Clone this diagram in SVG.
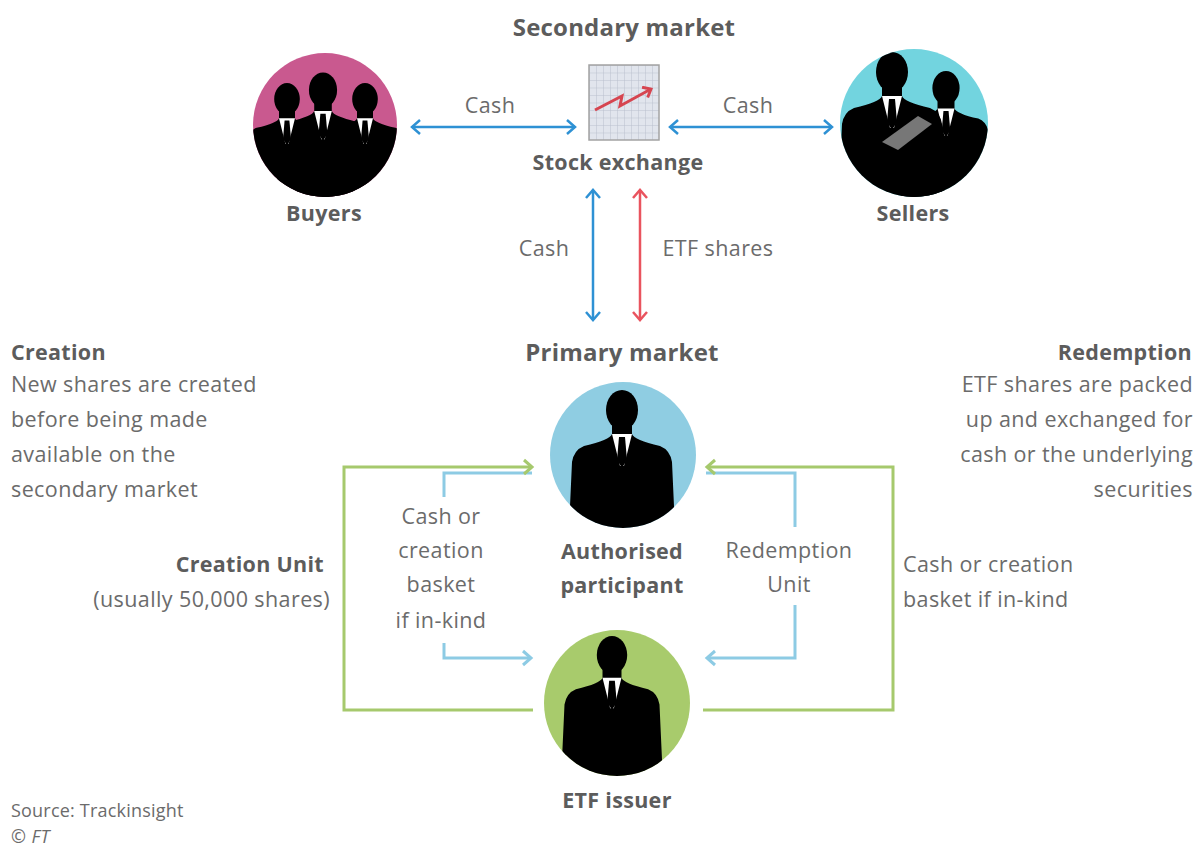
<svg xmlns="http://www.w3.org/2000/svg" width="1199" height="846" viewBox="0 0 1199 846">
<defs>
<style>
text{font-family:"Open Sans","Noto Sans","Liberation Sans",sans-serif;fill:#6b6b6b;font-size:21.5px;letter-spacing:0.4px}
.b{font-weight:bold;fill:#5c5c5c;letter-spacing:0.3px}
.t{font-size:24px;letter-spacing:0.2px}
.m{text-anchor:middle}
.e{text-anchor:end}
.sk{fill:#000}
.sh{fill:#fff}
.ln{fill:none;stroke-linejoin:miter}
.blue{stroke:#2e91d4;stroke-width:2.5}
.red{stroke:#e9535e;stroke-width:2.5}
.lb{stroke:#8dcbe4;stroke-width:3}
.gr{stroke:#a6c96d;stroke-width:3}
</style>
<marker id="mb" markerWidth="20" markerHeight="20" refX="0" refY="0" viewBox="-12 -10 14 20" orient="auto-start-reverse" markerUnits="userSpaceOnUse"><path d="M-8,-7 L0,0 L-8,7" fill="none" stroke="#2e91d4" stroke-width="2.5"/></marker>
<marker id="mr" markerWidth="20" markerHeight="20" refX="0" refY="0" viewBox="-12 -10 14 20" orient="auto-start-reverse" markerUnits="userSpaceOnUse"><path d="M-8,-7 L0,0 L-8,7" fill="none" stroke="#e9535e" stroke-width="2.5"/></marker>
<marker id="ml" markerWidth="20" markerHeight="20" refX="0" refY="0" viewBox="-12 -10 14 20" orient="auto" markerUnits="userSpaceOnUse"><path d="M-8,-7 L0,0 L-8,7" fill="none" stroke="#8dcbe4" stroke-width="3"/></marker>
<marker id="mg" markerWidth="20" markerHeight="20" refX="0" refY="0" viewBox="-12 -10 14 20" orient="auto" markerUnits="userSpaceOnUse"><path d="M-8,-7 L0,0 L-8,7" fill="none" stroke="#a6c96d" stroke-width="3"/></marker>
<marker id="mz" markerWidth="14" markerHeight="14" refX="0" refY="0" viewBox="-8 -6 10 12" orient="auto" markerUnits="userSpaceOnUse"><path d="M-6,-5 L0,0 L-6,5" fill="none" stroke="#d64550" stroke-width="2.5"/></marker>
<pattern id="grid" width="7" height="7.5" patternUnits="userSpaceOnUse" x="589" y="65"><path d="M7,0 L0,0 L0,7.5" fill="none" stroke="#b9c0cd" stroke-width="1"/></pattern>
<g id="body">
<ellipse cx="0" cy="0" rx="16" ry="20" class="sk"/>
<path class="sk" d="M-10,12 L-10,24 Q-12,30 -38,36 Q-48,40 -50,52 L-54,140 L54,140 L50,52 Q48,40 38,36 Q12,30 10,24 L10,12 Z"/>
</g>
<g id="shirt">
<path class="sh" d="M-10,24 L10,24 L2,56 L-2,56 Z"/>
<path class="sk" d="M-3,27 L3,27 L5,50 L0,58 L-5,50 Z"/>
</g>
<clipPath id="cb"><circle cx="325" cy="125" r="72"/></clipPath>
<clipPath id="cs"><circle cx="914" cy="123" r="74"/></clipPath>
<clipPath id="ca"><circle cx="623" cy="455" r="73"/></clipPath>
<clipPath id="ce"><circle cx="617" cy="703" r="73"/></clipPath>
</defs>
<rect width="1199" height="846" fill="#fff"/>

<g id="connectors">
<line class="ln blue" x1="412" y1="127" x2="575" y2="127" marker-start="url(#mb)" marker-end="url(#mb)"/>
<line class="ln blue" x1="670" y1="127" x2="832" y2="127" marker-start="url(#mb)" marker-end="url(#mb)"/>
<line class="ln blue" x1="593" y1="190" x2="593" y2="320" marker-start="url(#mb)" marker-end="url(#mb)"/>
<line class="ln red" x1="640" y1="190" x2="640" y2="320" marker-start="url(#mr)" marker-end="url(#mr)"/>
<polyline class="ln lb" points="532,473 444,473 444,497"/>
<polyline class="ln lb" points="444,643 444,658 531,658" marker-end="url(#ml)"/>
<polyline class="ln lb" points="706,473 795,473 795,527"/>
<polyline class="ln lb" points="795,605 795,658 707,658" marker-end="url(#ml)"/>
<polyline class="ln gr" points="533,710 344,710 344,467 532,467" marker-end="url(#mg)"/>
<polyline class="ln gr" points="703,710 893,710 893,467 707,467" marker-end="url(#mg)"/>
</g>

<g id="titles">
<text x="624" y="36" class="b t m">Secondary market</text>
<text x="622" y="361" class="b t m">Primary market</text>
</g>

<g id="buyers">
<circle cx="325" cy="125" r="72" fill="#c9598f"/>
<g clip-path="url(#cb)">
<use href="#body" transform="translate(323,90) scale(0.88)"/>
<use href="#body" transform="translate(287,99) scale(0.8)"/>
<use href="#body" transform="translate(365,99) scale(0.8)"/>
<use href="#shirt" transform="translate(323,90) scale(0.88)"/>
<use href="#shirt" transform="translate(287,99) scale(0.8)"/>
<use href="#shirt" transform="translate(365,99) scale(0.8)"/>
</g>
<text x="324" y="221" class="b m">Buyers</text>
</g>

<g id="stock-exchange">
<rect x="589" y="65" width="70" height="75" fill="#e1e5ed"/>
<rect x="589" y="65" width="70" height="75" fill="url(#grid)" stroke="#a3a3a3" stroke-width="1.5"/>
<polyline points="595,110 622,96 620,106 651,89" fill="none" stroke="#d64550" stroke-width="3" marker-end="url(#mz)"/>
<text x="618" y="170" class="b m">Stock exchange</text>
</g>

<g id="sellers">
<circle cx="914" cy="123" r="74" fill="#72d4df"/>
<g clip-path="url(#cs)">
<use href="#body" transform="translate(946,88) scale(0.85)"/>
<use href="#shirt" transform="translate(946,88) scale(0.85)"/>
<use href="#body" transform="translate(892,72) scale(1.0)"/>
<use href="#shirt" transform="translate(892,72) scale(1.0)"/>
<polygon points="882,142 918,116 932,124 898,150" fill="#777"/>
</g>
<text x="913" y="221" class="b m">Sellers</text>
</g>

<g id="flow-labels">
<text x="490" y="113" class="m">Cash</text>
<text x="748" y="113" class="m">Cash</text>
<text x="544" y="256" class="m">Cash</text>
<text x="718" y="256" class="m">ETF shares</text>
<text x="441" y="524" class="m">Cash or</text>
<text x="441" y="558" class="m">creation</text>
<text x="441" y="592" class="m">basket</text>
<text x="441" y="628" class="m">if in-kind</text>
<text x="789" y="558" class="m">Redemption</text>
<text x="789" y="592" class="m">Unit</text>
<text x="324" y="572" class="b e">Creation Unit</text>
<text x="330" y="607" class="e">(usually 50,000 shares)</text>
<text x="903" y="572">Cash or creation</text>
<text x="903" y="607">basket if in-kind</text>
</g>

<g id="creation-note">
<text x="11" y="360" class="b">Creation</text>
<text x="11" y="392">New shares are created</text>
<text x="11" y="427">before being made</text>
<text x="11" y="462">available on the</text>
<text x="11" y="497">secondary market</text>
</g>

<g id="redemption-note">
<text x="1192" y="360" class="b e">Redemption</text>
<text x="1193" y="392" class="e">ETF shares are packed</text>
<text x="1193" y="427" class="e">up and exchanged for</text>
<text x="1193" y="462" class="e">cash or the underlying</text>
<text x="1193" y="497" class="e">securities</text>
</g>

<g id="authorised-participant">
<circle cx="623" cy="455" r="73" fill="#8fcde2"/>
<g clip-path="url(#ca)">
<use href="#body" transform="translate(622,410)"/>
<use href="#shirt" transform="translate(622,410)"/>
</g>
<text x="622" y="559" class="b m">Authorised</text>
<text x="622" y="593" class="b m">participant</text>
</g>

<g id="etf-issuer">
<circle cx="617" cy="703" r="73" fill="#a8cb6c"/>
<g clip-path="url(#ce)">
<use href="#body" transform="translate(612,655) scale(0.95)"/>
<use href="#shirt" transform="translate(612,655) scale(0.95)"/>
</g>
<text x="617" y="808" class="b m">ETF issuer</text>
</g>

<g id="source">
<text x="11" y="817" style="font-size:18px;letter-spacing:0.2px">Source: Trackinsight</text>
<text x="11" y="843" style="font-size:18px;font-style:italic">© FT</text>
</g>
</svg>
